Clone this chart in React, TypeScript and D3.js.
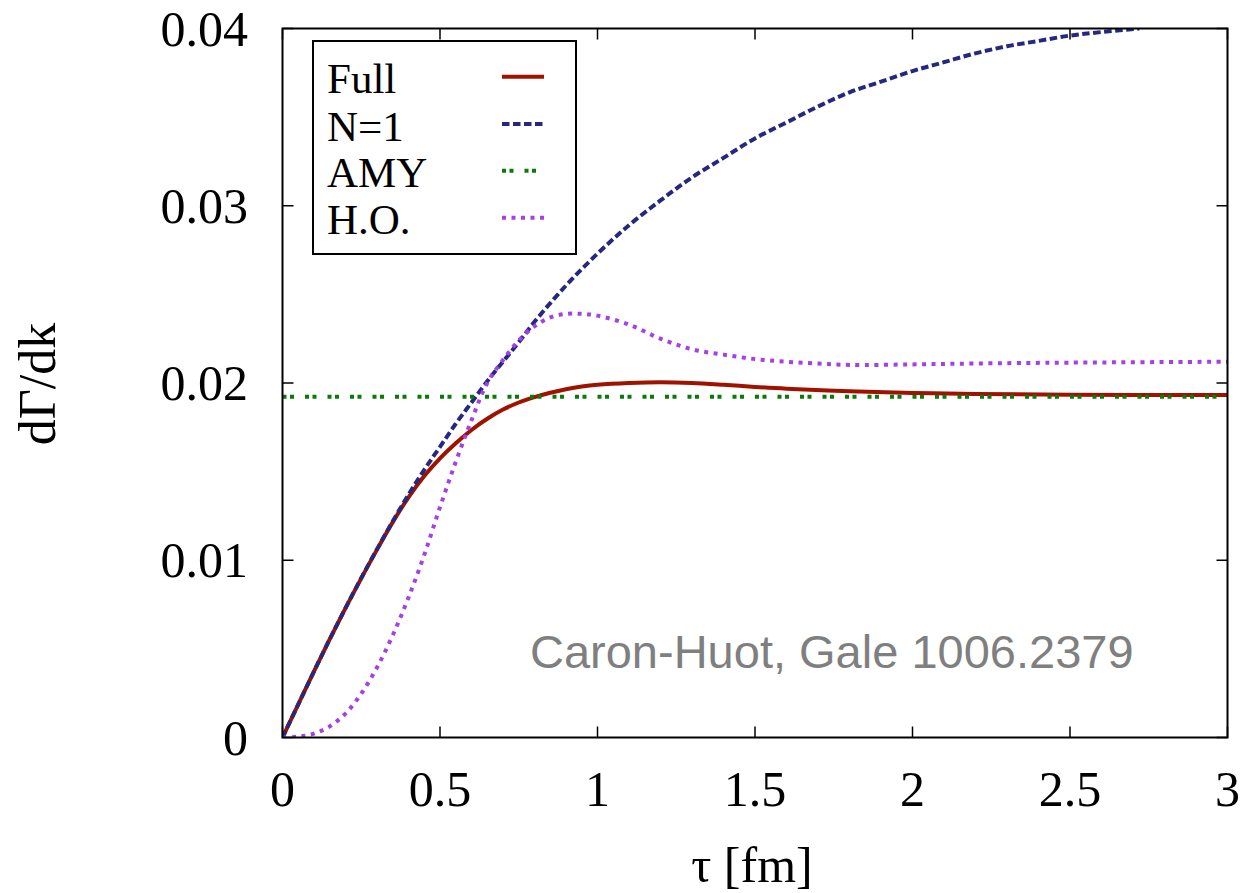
import React from "react";
import * as d3 from "d3";

// ---- Data ----
const fullT = [0, 0.05, 0.1, 0.15, 0.2, 0.25, 0.3, 0.35, 0.4, 0.45, 0.5, 0.55, 0.6, 0.65, 0.7, 0.75, 0.8, 0.85, 0.9, 0.95, 1.0, 1.1, 1.2, 1.3, 1.4, 1.5, 1.6, 1.8, 2.0, 2.2, 2.5, 3.0];
const fullV = [0, 0.00187, 0.00373, 0.00555, 0.0073, 0.00898, 0.0106, 0.01215, 0.01355, 0.01475, 0.01575, 0.0166, 0.01735, 0.01798, 0.0185, 0.0189, 0.0192, 0.01945, 0.01965, 0.0198, 0.0199, 0.02, 0.02004, 0.02, 0.0199, 0.01978, 0.01968, 0.01954, 0.01944, 0.01938, 0.01934, 0.01932];

const n1T = [0, 0.05, 0.1, 0.15, 0.2, 0.25, 0.3, 0.35, 0.4, 0.45, 0.5, 0.55, 0.6, 0.65, 0.7, 0.75, 0.8, 0.9, 1.0, 1.1, 1.2, 1.3, 1.4, 1.5, 1.6, 1.7, 1.8, 1.9, 2.0, 2.1, 2.2, 2.3, 2.4, 2.5, 2.6, 2.72];
const n1V = [0, 0.00187, 0.00373, 0.00555, 0.0073, 0.009, 0.01062, 0.0122, 0.0137, 0.0151, 0.0164, 0.0177, 0.0189, 0.0201, 0.0212, 0.0223, 0.02345, 0.0255, 0.0273, 0.0289, 0.0303, 0.0316, 0.0327, 0.0338, 0.0347, 0.0356, 0.0364, 0.037, 0.0376, 0.0381, 0.0386, 0.039, 0.0393, 0.0396, 0.0398, 0.04];

const amyT = [0, 3.0];
const amyV = [0.01923, 0.01923];

const hoT = [0, 0.05, 0.1, 0.15, 0.2, 0.25, 0.3, 0.35, 0.4, 0.45, 0.5, 0.55, 0.6, 0.65, 0.7, 0.75, 0.8, 0.85, 0.9, 0.95, 1.0, 1.1, 1.2, 1.3, 1.4, 1.5, 1.6, 1.7, 1.8, 2.0, 2.2, 2.5, 3.0];
const hoV = [0, 0.00005, 0.00022, 0.00063, 0.00135, 0.00248, 0.00395, 0.00577, 0.0079, 0.0103, 0.013, 0.01555, 0.0179, 0.02, 0.0213, 0.0224, 0.0232, 0.0237, 0.0239, 0.0239, 0.0238, 0.0233, 0.0225, 0.0219, 0.0216, 0.02135, 0.0212, 0.0211, 0.02102, 0.02105, 0.0211, 0.02115, 0.0212];

const xTicks = [0, 0.5, 1, 1.5, 2, 2.5, 3];
const xTickLabels = ["0", "0.5", "1", "1.5", "2", "2.5", "3"];
const yTicks = [0, 0.01, 0.02, 0.03, 0.04];
const yTickLabels = ["0", "0.01", "0.02", "0.03", "0.04"];

const seriesNames = ["Full", "N=1", "AMY", "H.O."];
const seriesColors = ["#a01200", "#262880", "#0a7a0a", "#a540e6"];
const seriesDash = [null, "7.5,3.5", "4,3.5,4,11", "4,5.5"];

const annotation = "Caron-Huot, Gale 1006.2379";
const xTitle = "τ [fm]";
const yTitle = "dΓ/dk";

export default function App() {
  const W = 1245, H = 893;
  const left = 282.5, right = 1227.5, top = 28.5, bottom = 737.5;
  const x = d3.scaleLinear().domain([0, 3]).range([left, right]);
  const y = d3.scaleLinear().domain([0, 0.04]).range([bottom, top]);
  const serif = "'Liberation Serif', 'Times New Roman', Times, serif";

  const mk = (ts: number[], vs: number[]) =>
    d3.line<number>().x((_, i) => x(ts[i])).y((v) => y(v)).curve(d3.curveCatmullRom.alpha(0.5))(vs) || "";

  const paths = [mk(fullT, fullV), mk(n1T, n1V), mk(amyT, amyV), mk(hoT, hoV)];

  const tickLen = 11;
  const legX1 = 502, legX2 = 544;
  const legLineY = [76.7, 124, 170.7, 217.7];
  const legTextY = [93, 140.5, 187, 234];

  return (
    <svg width={W} height={H} style={{ position: "absolute", left: 0, top: 0, background: "#fff" }}>
      <defs>
        <clipPath id="plotclip">
          <rect x={left} y={top} width={right - left} height={bottom - top} />
        </clipPath>
      </defs>
      <rect x={0} y={0} width={W} height={H} fill="#fff" />

      {/* ticks */}
      {xTicks.map((t, i) => (
        <g key={"xt" + i}>
          <line x1={x(t)} x2={x(t)} y1={bottom} y2={bottom - tickLen} stroke="#000" strokeWidth={1.5} />
          <line x1={x(t)} x2={x(t)} y1={top} y2={top + tickLen} stroke="#000" strokeWidth={1.5} />
          <text x={x(t)} y={806} textAnchor="middle" fontFamily={serif} fontSize={50} fill="#000">
            {xTickLabels[i]}
          </text>
        </g>
      ))}
      {yTicks.map((t, i) => (
        <g key={"yt" + i}>
          <line x1={left} x2={left + tickLen} y1={y(t)} y2={y(t)} stroke="#000" strokeWidth={1.5} />
          <line x1={right} x2={right - tickLen} y1={y(t)} y2={y(t)} stroke="#000" strokeWidth={1.5} />
          <text x={248} y={y(t) + 17} textAnchor="end" fontFamily={serif} fontSize={50} fill="#000">
            {yTickLabels[i]}
          </text>
        </g>
      ))}

      {/* annotation */}
      <text x={530} y={668} fontFamily="'Liberation Sans', Arial, Helvetica, sans-serif" fontSize={47} fill="#7f7f7f">
        {annotation}
      </text>

      {/* curves */}
      <g clipPath="url(#plotclip)">
        {paths.map((d, i) => (
          <path
            key={"p" + i}
            d={d}
            fill="none"
            stroke={seriesColors[i]}
            strokeWidth={4}
            strokeDasharray={seriesDash[i] || undefined}
            strokeLinecap="butt"
          />
        ))}
      </g>

      {/* frame */}
      <rect x={left} y={top} width={right - left} height={bottom - top} fill="none" stroke="#000" strokeWidth={2} />

      {/* legend */}
      <rect x={313} y={41} width={263} height={213} fill="#fff" stroke="#000" strokeWidth={2} />
      {seriesNames.map((n, i) => (
        <g key={"lg" + i}>
          <text x={327} y={legTextY[i]} fontFamily={serif} fontSize={43} fill="#000">
            {n}
          </text>
          <line
            x1={legX1}
            x2={legX2}
            y1={legLineY[i]}
            y2={legLineY[i]}
            stroke={seriesColors[i]}
            strokeWidth={4}
            strokeDasharray={seriesDash[i] || undefined}
          />
        </g>
      ))}

      {/* axis titles */}
      <text x={752} y={882} textAnchor="middle" fontFamily={serif} fontSize={50} fill="#000">
        {xTitle}
      </text>
      <text
        transform={`translate(55,384) rotate(-90)`}
        textAnchor="middle"
        fontFamily={serif}
        fontSize={52}
        fill="#000"
      >
        {yTitle}
      </text>
    </svg>
  );
}
